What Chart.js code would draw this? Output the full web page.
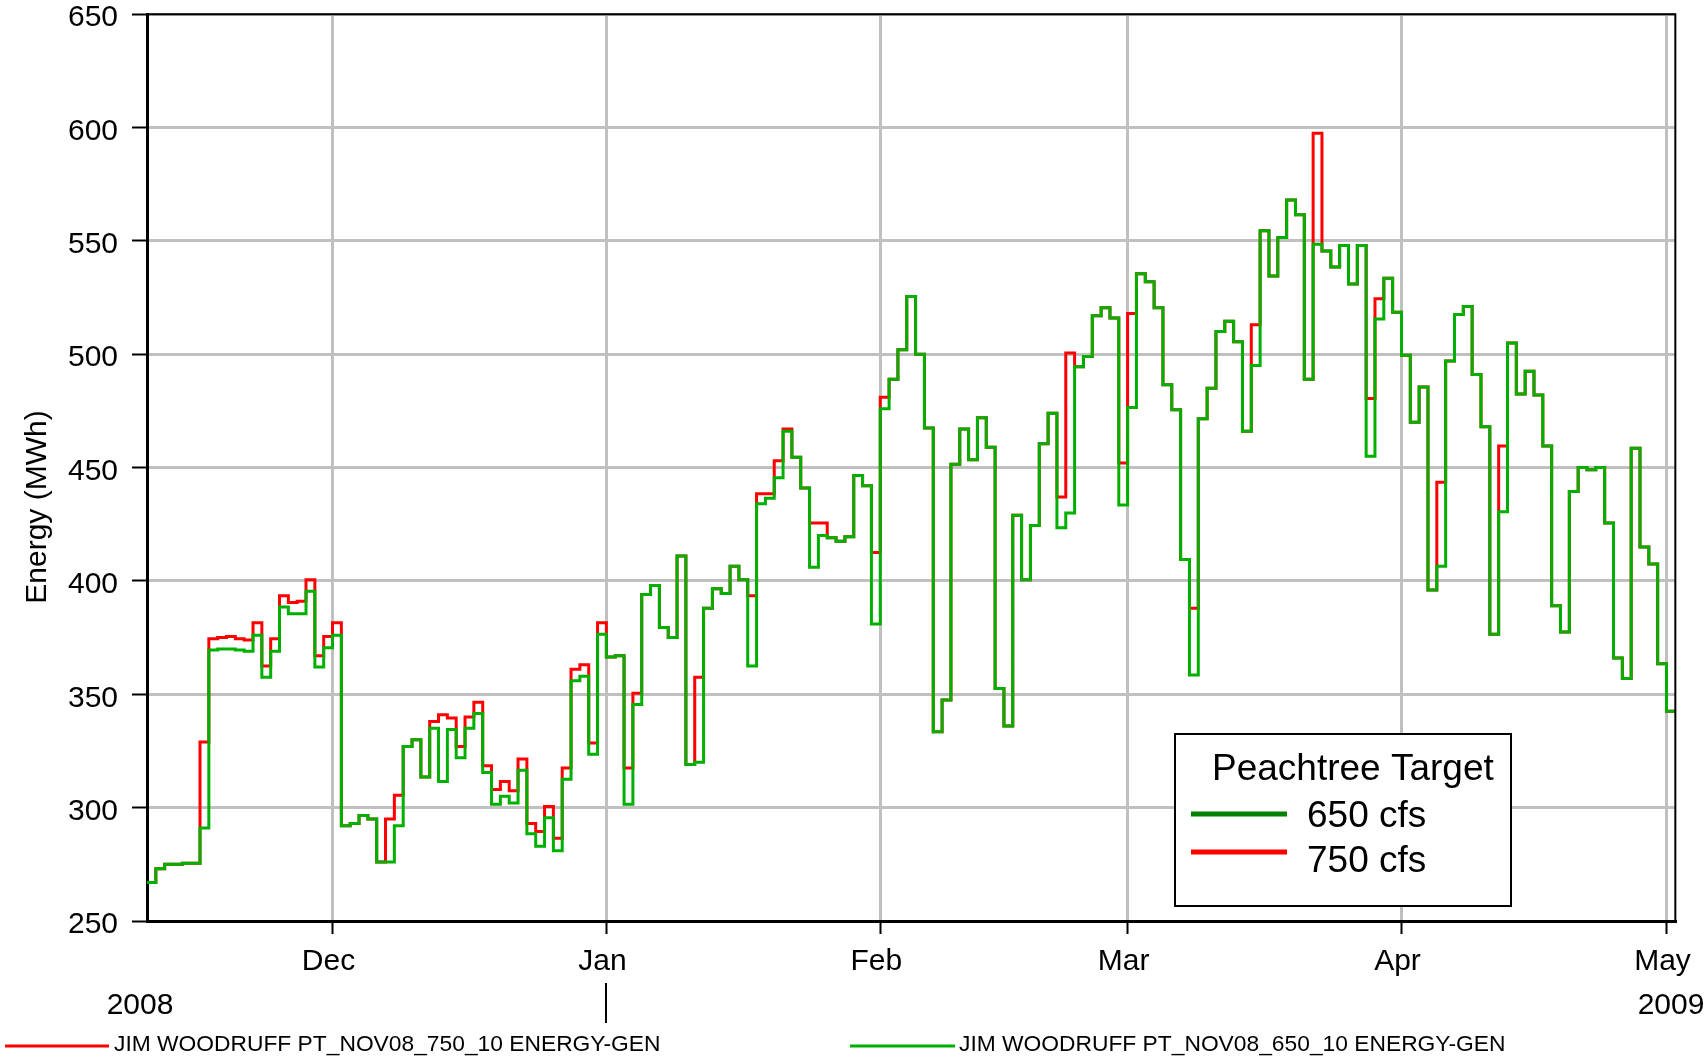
<!DOCTYPE html>
<html>
<head>
<meta charset="utf-8">
<script src="https://cdn.jsdelivr.net/npm/chart.js@4.4.1/dist/chart.umd.min.js"></script>
<style>
  html, body { margin: 0; padding: 0; background: #fff; }
  canvas { display: block; }
</style>
</head>
<body>
<canvas id="chart" width="1705" height="1057" style="width:1705px;height:1057px"></canvas>
<script>
// daily values, first day = 2008-11-10, last day = 2009-05-01
const START_DATE = '2008-11-10';

const energy750 = [
  // Nov 10 - Nov 30
  267, 273, 275, 275, 275.5, 275.5, 329, 374.5, 375, 375.5, 374.5, 374, 381.5, 362.5, 374.5, 393.5, 390.5, 391, 400.5, 367, 375.5,
  // Dec
  381.5, 292, 293, 296.5, 295, 276, 295, 305.5, 327, 330, 313.5, 338, 341, 339.5, 327, 340, 346.5, 318.5, 308, 311.5,
  307.5, 321.5, 293, 289.5, 300.5, 286.5, 317.5, 361, 363, 328.5, 381.5,
  // Jan
  366.5, 367, 317.5, 350.5, 394, 398, 379.5, 375, 411, 319, 357.5, 388, 396.5, 394.5, 406.5, 400.5, 393.5, 438.5, 438.5, 453,
  467, 454.5, 441, 425.5, 425.5, 419, 417.5, 419.5, 446.5, 442, 412.5,
  // Feb
  481, 489, 502, 525.5, 500, 467.5, 333.5, 347.5, 451.5, 467, 453.5, 472, 459, 352.5, 336, 429, 400.5, 424.5, 460.5, 474,
  437, 500.5, 494.5, 499, 517, 520.5, 516, 452,
  // Mar
  518, 535.5, 532, 520.5, 486.5, 475.5, 409.5, 388, 471.5, 485, 510, 514.5, 505.5, 466, 513, 554.5, 534.5, 551.5, 568, 561.5,
  489, 597.5, 545.5, 538.5, 548, 531, 548, 480.5, 524.5, 533.5, 518.5,
  // Apr
  499.5, 470, 485.5, 396, 443.5, 497, 517.5, 521, 491, 468, 376.5, 459.5, 505, 482.5, 492.5, 482, 459.5, 389, 377.5, 439.5,
  450, 449, 450, 425.5, 366, 357, 458.5, 415, 407.5, 363.5,
  // May 1
  342.5
];

const energy650 = [
  // Nov 10 - Nov 30
  267, 273, 275, 275, 275.5, 275.5, 291, 369.5, 370, 370, 369.5, 369, 376, 357.5, 369, 388.5, 385.5, 385.5, 395.5, 362, 370.5,
  // Dec
  376, 292, 293, 296.5, 295, 276, 276, 292, 327, 330, 313.5, 335, 311.5, 334.5, 322, 335, 341.5, 315.5, 301.5, 305,
  302, 316.5, 288.5, 283, 295.5, 281, 312.5, 356, 358, 323.5, 376.5,
  // Jan
  366.5, 367, 301.5, 345.5, 394, 398, 379.5, 375, 411, 319, 320, 388, 396.5, 394.5, 406.5, 400.5, 362.5, 434, 436.5, 445.5,
  466, 454.5, 441, 406, 420, 419, 417.5, 419.5, 446.5, 442, 381,
  // Feb
  476, 489, 502, 525.5, 500, 467.5, 333.5, 347.5, 451.5, 467, 453.5, 472, 459, 352.5, 336, 429, 400.5, 424.5, 460.5, 474,
  423.5, 430, 494.5, 499, 517, 520.5, 516, 433.5,
  // Mar
  476.5, 535.5, 532, 520.5, 486.5, 475.5, 409.5, 358.5, 471.5, 485, 510, 514.5, 505.5, 466, 495, 554.5, 534.5, 551.5, 568, 561.5,
  489, 548.5, 545.5, 538.5, 548, 531, 548, 455, 515.5, 533.5, 518.5,
  // Apr
  499.5, 470, 485.5, 396, 406.5, 497, 517.5, 521, 491, 468, 376.5, 430.5, 505, 482.5, 492.5, 482, 459.5, 389, 377.5, 439.5,
  450, 449, 450, 425.5, 366, 357, 458.5, 415, 407.5, 363.5,
  // May 1
  342.5
];

// month ticks, in days since START_DATE
const monthTickDays = [21, 52, 83, 111, 142, 172];
const monthTickLabels = ['Dec', 'Jan', 'Feb', 'Mar', 'Apr', 'May'];
const yearLabels = ['2008', '2009'];
const yearBreakDay = 52;

const seriesNames = [
  'JIM WOODRUFF PT_NOV08_750_10 ENERGY-GEN',
  'JIM WOODRUFF PT_NOV08_650_10 ENERGY-GEN'
];
const legendTitle = 'Peachtree Target';
const legendLabels = ['650 cfs', '750 cfs'];

const FONT = "'Liberation Sans', Arial, Helvetica, sans-serif";
const RED = '#ff0000';
const GREEN = '#00b000';
const DARK_GREEN = '#008000';
const GRID = '#c0c0c0';

// each value holds for one day, so close the last step at the next day
const toSteps = (values) => {
  const pts = values.map((v, i) => ({ x: i, y: v }));
  pts.push({ x: values.length, y: values[values.length - 1] });
  return pts;
};

const decorations = {
  id: 'decorations',
  afterDraw(chart) {
    const { ctx, chartArea: area, scales } = chart;
    ctx.save();

    // frame on top and right
    ctx.strokeStyle = '#000';
    ctx.lineWidth = 2;
    ctx.beginPath();
    ctx.moveTo(area.left, area.top);
    ctx.lineTo(area.right, area.top);
    ctx.lineTo(area.right, area.bottom);
    ctx.stroke();

    // y axis title
    ctx.fillStyle = '#000';
    ctx.font = `30px ${FONT}`;
    ctx.save();
    ctx.translate(38, 507);
    ctx.rotate(-Math.PI / 2);
    ctx.textAlign = 'center';
    ctx.textBaseline = 'middle';
    ctx.fillText('Energy (MWh)', 0, 0);
    ctx.restore();

    // years under the month labels
    ctx.textAlign = 'center';
    ctx.textBaseline = 'middle';
    ctx.fillText(yearLabels[0], 140, 1006);
    ctx.fillText(yearLabels[1], 1671, 1006);
    const xb = Math.round(scales.x.getPixelForValue(yearBreakDay));
    ctx.lineWidth = 2;
    ctx.beginPath();
    ctx.moveTo(xb, 983);
    ctx.lineTo(xb, 1023);
    ctx.stroke();

    // series legend along the bottom
    ctx.font = `22.8px ${FONT}`;
    ctx.textAlign = 'left';
    ctx.lineWidth = 3;
    ctx.strokeStyle = RED;
    ctx.beginPath(); ctx.moveTo(5, 1046); ctx.lineTo(109, 1046); ctx.stroke();
    ctx.fillText(seriesNames[0], 114, 1045);
    ctx.strokeStyle = GREEN;
    ctx.beginPath(); ctx.moveTo(850, 1046); ctx.lineTo(955, 1046); ctx.stroke();
    ctx.fillText(seriesNames[1], 959, 1045);

    // boxed legend inside the plot
    ctx.fillStyle = '#fff';
    ctx.fillRect(1175, 734, 336, 172);
    ctx.strokeStyle = '#000';
    ctx.lineWidth = 2;
    ctx.strokeRect(1175, 734, 336, 172);
    ctx.fillStyle = '#000';
    ctx.font = `37px ${FONT}`;
    ctx.textBaseline = 'alphabetic';
    ctx.fillText(legendTitle, 1212, 780);
    ctx.fillText(legendLabels[0], 1307, 827);
    ctx.fillText(legendLabels[1], 1307, 872);
    ctx.lineWidth = 5;
    ctx.strokeStyle = DARK_GREEN;
    ctx.beginPath(); ctx.moveTo(1191, 814); ctx.lineTo(1287, 814); ctx.stroke();
    ctx.strokeStyle = RED;
    ctx.beginPath(); ctx.moveTo(1191, 852); ctx.lineTo(1287, 852); ctx.stroke();

    ctx.restore();
  }
};

Chart.defaults.font.family = FONT;
Chart.defaults.color = '#000';

new Chart(document.getElementById('chart'), {
  type: 'line',
  data: {
    datasets: [
      {
        label: legendLabels[0],
        data: toSteps(energy650),
        borderColor: GREEN,
        borderWidth: 3,
        stepped: 'before',
        pointRadius: 0,
        fill: false
      },
      {
        label: legendLabels[1],
        data: toSteps(energy750),
        borderColor: RED,
        borderWidth: 3,
        stepped: 'before',
        pointRadius: 0,
        fill: false
      }
    ]
  },
  options: {
    responsive: false,
    devicePixelRatio: 1,
    animation: false,
    layout: { padding: { left: 0, right: 27, top: 14, bottom: 0 } },
    plugins: {
      legend: { display: false },
      tooltip: { enabled: false }
    },
    scales: {
      x: {
        type: 'linear',
        min: 0,
        max: energy650.length,
        afterBuildTicks: (axis) => {
          axis.ticks = monthTickDays.map(v => ({ value: v }));
        },
        afterFit: (axis) => { axis.height = 136; },
        ticks: {
          autoSkip: false,
          maxRotation: 0,
          padding: 10,
          labelOffset: -4,
          font: { size: 30 },
          callback: (value, index) => monthTickLabels[index]
        },
        grid: {
          color: GRID,
          lineWidth: 3,
          tickLength: 13,
          tickColor: '#000',
          tickWidth: 2
        },
        border: { color: '#000', width: 3 }
      },
      y: {
        min: 250,
        max: 650,
        afterFit: (axis) => { axis.width = 147; },
        ticks: {
          stepSize: 50,
          padding: 14,
          labelOffset: 4,
          // tiny line height so the top label doesn't push the plot down
          font: { size: 30, lineHeight: 0.01 }
        },
        grid: {
          color: GRID,
          lineWidth: 3,
          tickLength: 15,
          tickColor: '#000',
          tickWidth: 2
        },
        border: { color: '#000', width: 3 }
      }
    }
  },
  plugins: [decorations]
});
</script>
</body>
</html>
